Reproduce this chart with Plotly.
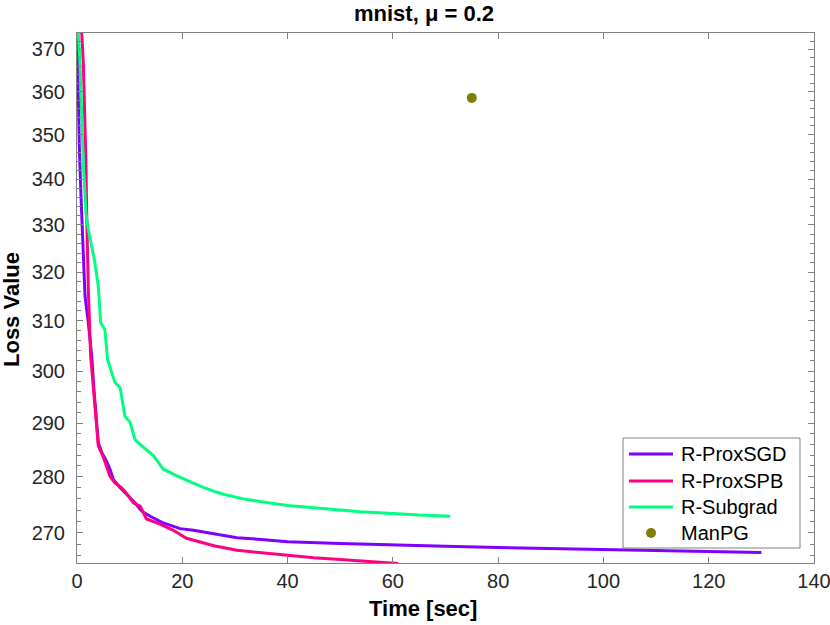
import math
import plotly.graph_objects as go

# ---- data ----
sgd_t = [0.0, 0.25, 0.44, 0.76, 1.08, 1.52, 2.15, 2.8, 3.23, 3.74, 4.05, 4.7, 5.6, 6.27, 6.9,
         8.2, 9.4, 11.0, 12.3, 13.9, 16.4, 19.6, 22.1, 25.0, 30.4, 35.0, 40.0, 50.0, 60.0,
         70.0, 80.0, 90.0, 100.0, 110.0, 120.0, 130.0]
sgd_v = [376.0, 358.8, 347.3, 336.2, 325.4, 315.1, 309.6, 302.9, 296.3, 290.0, 286.3, 284.5, 282.9,
         281.4, 279.5, 278.0, 276.8, 275.3, 273.8, 272.9, 271.7, 270.7, 270.4, 269.9, 269.1, 268.8,
         268.4, 268.1, 267.8, 267.6, 267.4, 267.2, 267.0, 266.8, 266.6, 266.5]

spb_t = [0.0, 0.9, 1.2, 1.5, 1.7, 1.84, 1.96, 2.15, 2.6, 3.1, 3.6, 4.05, 5.0, 5.6, 6.27, 7.2,
         8.5, 9.75, 10.7, 12.0, 13.2, 15.8, 18.3, 20.8, 23.4, 26.0, 30.4, 35.0, 40.0, 45.0,
         50.0, 55.0, 61.0]
spb_v = [376.0, 374.0, 366.7, 354.9, 343.6, 332.6, 321.9, 316.4, 302.9, 296.3, 290.0, 285.7, 283.6,
         282.0, 280.1, 278.9, 278.0, 276.6, 275.3, 274.7, 272.4, 271.5, 270.4, 269.0, 268.4, 267.7,
         266.9, 266.5, 266.0, 265.6, 265.3, 265.0, 264.6]

sub_t = [0.0, 0.25, 0.57, 0.89, 1.2, 1.7, 2.15, 2.8, 3.4, 4.05, 4.5, 5.3, 5.8, 6.6, 7.2, 8.2,
         9.1, 10.1, 11.0, 12.3, 14.5, 16.4, 19.6, 23.4, 25.9, 28.0, 31.6, 35.0, 40.0, 45.0,
         50.0, 53.8, 60.0, 65.0, 70.9]
sub_v = [376.0, 374.0, 366.7, 354.9, 343.6, 332.6, 329.0, 325.4, 321.9, 317.0, 309.6, 308.2, 302.3,
         299.7, 297.8, 296.7, 291.3, 290.1, 286.9, 285.7, 283.9, 281.4, 279.9, 278.3, 277.4, 276.8,
         276.0, 275.5, 274.8, 274.4, 274.0, 273.7, 273.4, 273.1, 272.9]

manpg_t = [75.0]
manpg_v = [358.5]

names = ["R-ProxSGD", "R-ProxSPB", "R-Subgrad", "ManPG"]
colors = ["#7F00FF", "#FF0080", "#00FF80", "#808000"]

y_ticks = [270, 280, 290, 300, 310, 320, 330, 340, 350, 360, 370]
y_minor = [v for v in range(264, 375, 2) if v % 10 != 0]
x_ticks = [0, 20, 40, 60, 80, 100, 120, 140]

FONT = "Liberation Sans, Arial, Helvetica, sans-serif"
AXC = "#808080"
TXT = "#262626"

W, H = 830, 625
L, R, T, B = 77, 16, 33, 62
PW, PH = W - L - R, H - T - B


def px(x):
    return (x - L) / PW


def py(y):
    return (H - B - y) / PH


fig = go.Figure()
for t, v, n, c in [(sgd_t, sgd_v, names[0], colors[0]),
                   (spb_t, spb_v, names[1], colors[1]),
                   (sub_t, sub_v, names[2], colors[2])]:
    fig.add_trace(go.Scatter(x=t, y=v, mode="lines", name=n,
                             line=dict(color=c, width=3), showlegend=False))
fig.add_trace(go.Scatter(x=manpg_t, y=manpg_v, mode="markers", name=names[3],
                         marker=dict(color=colors[3], size=10), showlegend=False))

# legend box drawn as shapes + text (to match the reference layout)
shapes = [dict(type="rect", xref="paper", yref="paper", layer="above",
               x0=px(623), x1=px(800), y0=py(548), y1=py(438),
               fillcolor="white", line=dict(color=AXC, width=1))]
annotations = []
rows = [454, 481, 507, 533]
for i, (n, c) in enumerate(zip(names, colors)):
    yy = rows[i]
    if i < 3:
        shapes.append(dict(type="line", xref="paper", yref="paper", layer="above",
                           x0=px(629), x1=px(673), y0=py(yy), y1=py(yy),
                           line=dict(color=c, width=3)))
    else:
        shapes.append(dict(type="circle", xref="paper", yref="paper", layer="above",
                           x0=px(646), x1=px(656), y0=py(yy + 5), y1=py(yy - 5),
                           fillcolor=c, line=dict(color=c, width=0)))
    annotations.append(dict(text=n, xref="paper", yref="paper", x=px(679), y=py(yy),
                            xanchor="left", yanchor="middle", showarrow=False,
                            font=dict(size=20, color="#000000")))

annotations += [
    dict(text="<b>Time [sec]</b>", xref="paper", yref="paper",
         x=px(423), y=py(608), xanchor="center", yanchor="middle",
         showarrow=False, font=dict(size=22, color="#000000")),
    dict(text="<b>Loss Value</b>", xref="paper", yref="paper",
         x=px(11), y=py(310), xanchor="center", yanchor="middle",
         textangle=-90, showarrow=False, font=dict(size=22, color="#000000")),
]

fig.update_layout(
    width=W, height=H,
    margin=dict(l=L, r=R, t=T, b=B),
    paper_bgcolor="white", plot_bgcolor="white",
    font=dict(family=FONT, size=20, color=TXT),
    title=dict(text="<b>mnist, μ = 0.2</b>", x=424 / W, xanchor="center",
               y=1 - 13 / H, yanchor="middle", yref="container",
               font=dict(size=22, color="#000000")),
    xaxis=dict(range=[0, 140], tickvals=x_ticks, ticks="inside", ticklen=6,
               tickcolor=AXC, showline=True, linecolor=AXC, linewidth=1,
               mirror="allticks", showgrid=False, zeroline=False,
               automargin=False, ticklabeloverflow="allow",
               tickfont=dict(size=20, color=TXT)),
    yaxis=dict(type="log", range=[math.log10(264.7), math.log10(374.0)],
               tickvals=y_ticks, ticktext=[str(v) for v in y_ticks],
               ticks="inside", ticklen=6, tickcolor=AXC,
               showline=True, linecolor=AXC, linewidth=1, mirror="allticks",
               showgrid=False, zeroline=False, automargin=False,
               ticklabelstandoff=7, ticklabeloverflow="allow",
               tickfont=dict(size=20, color=TXT),
               minor=dict(tickvals=y_minor, ticks="inside", ticklen=4,
                          tickcolor=AXC, showgrid=False)),
    showlegend=False,
    shapes=shapes,
    annotations=annotations,
)

fig.write_html("out.html", config={"displayModeBar": False},
               post_script="document.body.style.margin='0';document.body.style.overflow='hidden';")
